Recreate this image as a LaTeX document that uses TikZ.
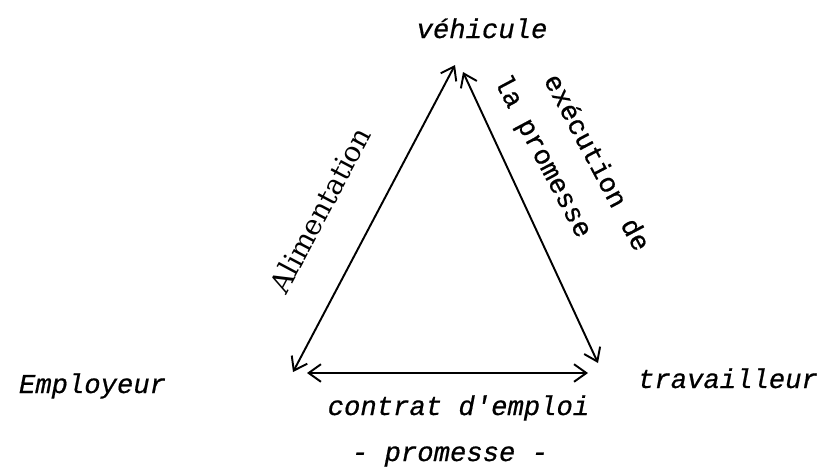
\documentclass[tikz,border=0pt]{standalone}
\usepackage{fontspec}
\setmainfont{DejaVu Serif}
\setmonofont[FakeBold=0.6]{Liberation Mono}
\usepackage{tikz}
\usetikzlibrary{
    positioning,
    arrows.meta
}
\tikzset{
    >={Straight Barb[length=7pt,width=10pt]},
    sommet/.style={
        font=\fontsize{15.5}{18}\selectfont\ttfamily\itshape,
        inner sep=0pt
    },
    lien/.style={
        font=\fontsize{15.5}{18}\selectfont\ttfamily,
        inner sep=0pt
    }
}

\begin{document}
\begin{tikzpicture}[
    line width=1.1pt
]
    \useasboundingbox (0,0) rectangle (16.34,9.34);

    % Sommets
    \node[sommet, anchor=base] (veh)  at (9.64,8.58)  {véhicule};
    \node[sommet, anchor=base] (emp)  at (1.85,1.48)  {Employeur};
    \node[sommet, anchor=base] (trav) at (14.56,1.58) {travailleur};

    % Extremites des fleches
    \coordinate (hg) at (9.10,8.04);
    \coordinate (hd) at (9.26,7.90);
    \coordinate (bg) at (5.86,1.90);
    \coordinate (bd) at (11.96,2.08);
    \coordinate (cg) at (6.14,1.88);
    \coordinate (cd) at (11.76,1.88);

    % Fleches
    \draw[<->] (bg) -- (hg);
    \draw[<->] (hd) -- (bd);
    \draw[<->] (cg) -- (cd);

    % Etiquettes
    \node[font=\fontsize{16}{19}\selectfont, rotate=62, inner sep=0pt]
        (alim) at (6.40,5.14) {Alimentation};
    \node[lien, rotate=-62] (prom) at (10.84,6.20) {la promesse};
    \node[lien, rotate=-62] (exec) at (11.96,6.10) {exécution de};
    \node[sommet, anchor=base] (contrat) at (9.17,1.04) {contrat d'emploi};
    \node[sommet, anchor=base] (tiret)   at (9.00,0.12) {- promesse -};

\end{tikzpicture}
\end{document}
